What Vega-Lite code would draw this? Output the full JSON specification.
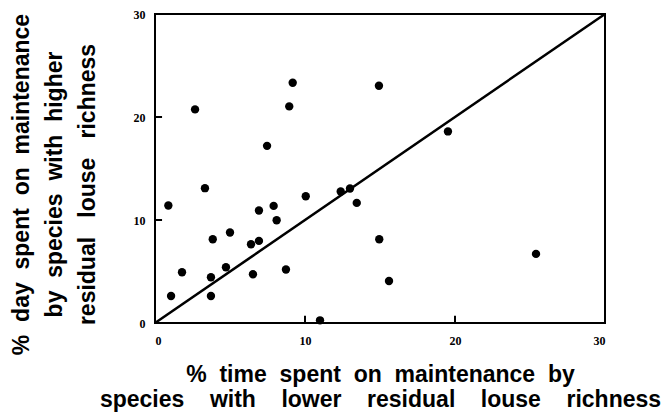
{
  "$schema": "https://vega.github.io/schema/vega-lite/v6.json",
  "autosize": "none",
  "width": 450,
  "height": 309,
  "padding": {"left": 155, "top": 14, "right": 65, "bottom": 90},
  "background": "white",
  "config": {
    "view": {"stroke": "black", "strokeWidth": 2},
    "axis": {
      "domain": false,
      "grid": false,
      "ticks": false,
      "labelFont": "Liberation Serif",
      "labelFontSize": 12,
      "labelFontWeight": "bold",
      "labelColor": "black",
      "titleFont": "Liberation Sans",
      "titleFontWeight": "bold",
      "titleFontSize": 23,
      "titleColor": "black"
    }
  },
  "layer": [
    {
      "data": {"values": [{"t": 10}, {"t": 20}]},
      "mark": {"type": "rule", "color": "black", "strokeWidth": 2},
      "encoding": {
        "x": {"field": "t", "type": "quantitative"},
        "y": {"datum": 0},
        "y2": {"datum": 0.7}
      }
    },
    {
      "data": {"values": [{"t": 10}, {"t": 20}]},
      "mark": {"type": "rule", "color": "black", "strokeWidth": 2},
      "encoding": {
        "y": {"field": "t", "type": "quantitative"},
        "x": {"datum": 0},
        "x2": {"datum": 0.47}
      }
    },
    {
      "data": {"values": [{"x": 0, "y": 0}, {"x": 30, "y": 30}]},
      "mark": {"type": "line", "color": "black", "strokeWidth": 2.5},
      "encoding": {
        "x": {"field": "x", "type": "quantitative"},
        "y": {"field": "y", "type": "quantitative"}
      }
    },
    {
      "data": {"values": [
        {"lower": 0.89, "higher": 11.41},
        {"lower": 1.07, "higher": 2.62},
        {"lower": 1.8, "higher": 4.93},
        {"lower": 2.67, "higher": 20.74},
        {"lower": 3.33, "higher": 13.09},
        {"lower": 3.85, "higher": 8.13},
        {"lower": 3.73, "higher": 4.44},
        {"lower": 3.73, "higher": 2.62},
        {"lower": 4.73, "higher": 5.41},
        {"lower": 5.0, "higher": 8.79},
        {"lower": 6.4, "higher": 7.65},
        {"lower": 6.53, "higher": 4.73},
        {"lower": 6.93, "higher": 10.92},
        {"lower": 6.93, "higher": 7.97},
        {"lower": 7.47, "higher": 17.2},
        {"lower": 7.91, "higher": 11.37},
        {"lower": 8.11, "higher": 9.98},
        {"lower": 8.73, "higher": 5.19},
        {"lower": 8.95, "higher": 21.03},
        {"lower": 9.18, "higher": 23.32},
        {"lower": 10.05, "higher": 12.31},
        {"lower": 11.0, "higher": 0.26},
        {"lower": 12.38, "higher": 12.77},
        {"lower": 13.0, "higher": 13.06},
        {"lower": 13.45, "higher": 11.66},
        {"lower": 14.93, "higher": 23.03},
        {"lower": 14.95, "higher": 8.13},
        {"lower": 15.6, "higher": 4.08},
        {"lower": 19.53, "higher": 18.6},
        {"lower": 25.4, "higher": 6.71}
      ]},
      "mark": {"type": "point", "filled": true, "color": "black", "opacity": 1, "size": 70},
      "encoding": {
        "x": {
          "field": "lower", "type": "quantitative",
          "scale": {"domain": [0, 30], "nice": false, "zero": true},
          "axis": {
            "values": [0, 10, 20, 30],
            "labelPadding": 12,
            "title": ["%\u00a0 time\u00a0 spent\u00a0 on\u00a0 maintenance\u00a0 by", "species\u00a0\u00a0\u00a0 with\u00a0\u00a0\u00a0 lower\u00a0\u00a0\u00a0 residual\u00a0\u00a0\u00a0 louse\u00a0\u00a0\u00a0 richness"],
            "titleLineHeight": 25,
            "titleBaseline": "alphabetic",
            "titleAnchor": "middle",
            "titleX": 225,
            "titleY": 58
          }
        },
        "y": {
          "field": "higher", "type": "quantitative",
          "scale": {"domain": [0, 30], "nice": false, "zero": true},
          "axis": {
            "values": [0, 10, 20, 30],
            "labelPadding": 10,
            "title": ["%\u00a0 day\u00a0 spent\u00a0 on\u00a0 maintenance", "by\u00a0 species\u00a0 with\u00a0 higher", "residual\u00a0\u00a0 louse\u00a0\u00a0 richness"],
            "titleLineHeight": 33,
            "titleAngle": -90,
            "titleAlign": "center",
            "titleBaseline": "alphabetic",
            "titleX": -127,
            "titleY": 170
          }
        }
      }
    }
  ]
}
